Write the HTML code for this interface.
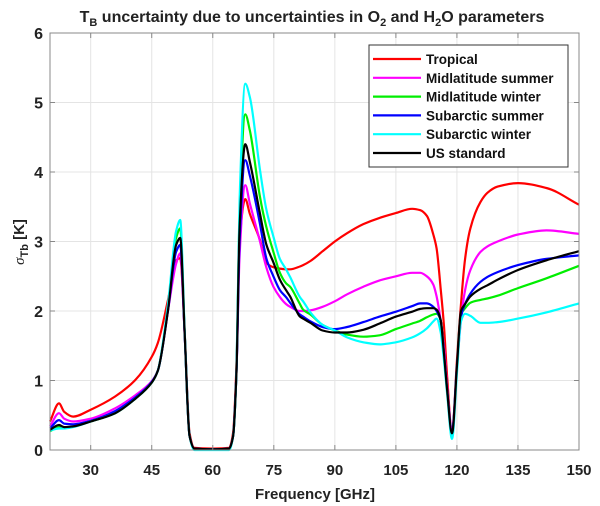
<!DOCTYPE html>
<html><head><meta charset="utf-8"><style>
html,body{margin:0;padding:0;background:#fff;}
svg{display:block;font-family:"Liberation Sans",Arial,sans-serif;}
</style></head><body>
<svg id="chart" width="600" height="506" viewBox="0 0 600 506">
<text x="312" y="22" text-anchor="middle" font-size="16" font-weight="bold" fill="#222">T<tspan font-size="11" dy="4">B</tspan><tspan dy="-4"> uncertainty due to uncertainties in O</tspan><tspan font-size="11" dy="4">2</tspan><tspan dy="-4"> and H</tspan><tspan font-size="11" dy="4">2</tspan><tspan dy="-4">O parameters</tspan></text>
<g id="grid"></g>
<g id="series"></g>
<rect x="50" y="33" width="529" height="417" fill="none" stroke="#888" stroke-width="1"/>
<g id="ticks"></g>
<text x="315" y="499" text-anchor="middle" font-size="15" font-weight="bold" fill="#222">Frequency [GHz]</text>
<text transform="translate(24,242) rotate(-90)" text-anchor="middle" font-size="15" font-weight="bold" fill="#222"><tspan font-family="Liberation Serif, serif" font-style="italic" font-weight="normal">σ</tspan><tspan font-size="11" dy="4">Tb</tspan><tspan dy="-4"> [K]</tspan></text>
<g id="legend">
<rect x="369" y="45" width="199" height="122" fill="#fff" stroke="#333" stroke-width="1"/>
</g>
</svg>
<script>
const freqs=[20,22.2,23.5,25.7,30,36,41,45,46.5,49,51,52,53.1,54.3,55.5,60,64,65,65.8,66.6,68,69.1,71.6,73.2,74.9,76.5,78,79,81.4,82.2,84,87,90,93,97,101,105,109,111,112.6,114.2,115,116,116.8,117.6,118.8,120,121,122,123.3,125.8,127.5,130,135,142,150];
const tropical=[.41,.67,.55,.48,.58,.77,1.01,1.34,1.54,2.16,2.73,2.76,1.68,.24,.03,.02,.03,.25,1.2,3.0,3.61,3.4,3.02,2.69,2.63,2.61,2.6,2.6,2.64,2.66,2.72,2.86,3.0,3.12,3.25,3.34,3.41,3.47,3.45,3.37,3.1,2.9,2.33,1.8,1.04,.26,1.28,2.1,2.75,3.19,3.57,3.7,3.79,3.84,3.77,3.53];
const midSummer=[.34,.53,.45,.41,.45,.6,.79,.99,1.14,2.01,2.68,2.83,1.65,.2,.02,.01,.02,.2,1.1,2.8,3.81,3.55,3.0,2.62,2.35,2.2,2.1,2.06,2.0,2.0,2.01,2.06,2.14,2.24,2.35,2.44,2.5,2.55,2.55,2.5,2.38,2.21,1.87,1.49,.9,.29,1.2,1.87,2.3,2.59,2.85,2.93,3.0,3.1,3.16,3.11];
const midWinter=[.27,.33,.32,.34,.41,.53,.74,.97,1.14,2.05,3.05,3.19,1.68,.2,.02,.01,.02,.2,1.1,3.4,4.83,4.6,3.64,3.2,2.85,2.55,2.4,2.35,2.1,2.02,1.95,1.8,1.72,1.66,1.63,1.65,1.74,1.82,1.86,1.91,1.95,1.96,1.87,1.4,.85,.24,1.2,1.95,2.04,2.12,2.16,2.18,2.22,2.33,2.47,2.65];
const subSummer=[.31,.43,.38,.37,.42,.56,.76,.98,1.14,2.01,2.85,2.95,1.66,.2,.02,.01,.02,.2,1.1,3.0,4.17,3.95,3.25,2.75,2.5,2.3,2.2,2.12,1.95,1.92,1.85,1.77,1.74,1.77,1.84,1.92,1.99,2.07,2.11,2.11,2.06,2.0,1.87,1.4,.85,.25,1.2,1.92,2.1,2.25,2.42,2.49,2.56,2.66,2.75,2.8];
const subWinter=[.28,.31,.31,.33,.41,.53,.74,.97,1.14,2.1,3.15,3.31,1.7,.2,0,0,0,.2,1.1,3.6,5.27,5.08,4.03,3.45,3.07,2.75,2.6,2.49,2.2,2.14,1.98,1.8,1.72,1.62,1.55,1.52,1.55,1.62,1.68,1.75,1.85,1.89,1.7,1.3,.8,.16,1.1,1.85,1.96,1.93,1.83,1.83,1.84,1.89,1.98,2.11];
const usStandard=[.29,.36,.33,.34,.41,.53,.74,.97,1.14,2.01,2.95,3.05,1.67,.2,.02,.01,.02,.2,1.1,3.2,4.40,4.15,3.4,2.95,2.7,2.45,2.3,2.21,1.92,1.89,1.83,1.72,1.69,1.69,1.73,1.82,1.92,1.99,2.03,2.04,2.04,2.02,1.87,1.4,.85,.24,1.2,2.0,2.1,2.21,2.32,2.37,2.45,2.59,2.73,2.86];
const seriesNames=["Tropical","Midlatitude summer","Midlatitude winter","Subarctic summer","Subarctic winter","US standard"];
const xTicks=[30,45,60,75,90,105,120,135,150];
const yTicks=[0,1,2,3,4,5,6];

const NS="http://www.w3.org/2000/svg";
const X0=50,X1=579,Y0=450,Y1=33,XMIN=20,XMAX=150,YMIN=0,YMAX=6;
function xs(v){return X0+(v-XMIN)/(XMAX-XMIN)*(X1-X0);}
function ys(v){return Y0-(v-YMIN)/(YMAX-YMIN)*(Y0-Y1);}
function mk(tag,attrs,parent){const e=document.createElementNS(NS,tag);for(const k in attrs)e.setAttribute(k,attrs[k]);parent.appendChild(e);return e;}
function monotonePath(px,py){
  const n=px.length,d=[],m=[];
  for(let i=0;i<n-1;i++)d.push((py[i+1]-py[i])/(px[i+1]-px[i]));
  m[0]=d[0];m[n-1]=d[n-2];
  for(let i=1;i<n-1;i++){ if(d[i-1]*d[i]<=0)m[i]=0; else { const h0=px[i]-px[i-1],h1=px[i+1]-px[i]; m[i]=3*(h0+h1)/((2*h1+h0)/d[i-1]+(h1+2*h0)/d[i]); } }
  let s='M'+px[0].toFixed(1)+','+py[0].toFixed(1);
  for(let i=0;i<n-1;i++){const h=(px[i+1]-px[i])/3;
    s+=' C'+(px[i]+h).toFixed(1)+','+(py[i]+m[i]*h).toFixed(1)+' '+(px[i+1]-h).toFixed(1)+','+(py[i+1]-m[i+1]*h).toFixed(1)+' '+px[i+1].toFixed(1)+','+py[i+1].toFixed(1);}
  return s;
}
const grid=document.getElementById('grid'),ticks=document.getElementById('ticks');
xTicks.forEach(t=>{
  const g=mk('line',{x1:xs(t),x2:xs(t),y1:Y1,y2:Y0,stroke:'#e4e4e4','stroke-width':1},grid);
  
  
  const tk=mk('line',{x1:xs(t),x2:xs(t),y1:Y0,y2:Y0-5,stroke:'#888'},ticks);
  
  
  const tk2=mk('line',{x1:xs(t),x2:xs(t),y1:Y1,y2:Y1+5,stroke:'#888'},ticks);
  
  
  const lb=mk('text',{x:xs(t),y:475,'text-anchor':'middle','font-size':15,'font-weight':'bold',fill:'#222'},ticks);
  lb.textContent=t;
  
  
});
yTicks.forEach(t=>{
  const g=mk('line',{x1:X0,x2:X1,y1:ys(t),y2:ys(t),stroke:'#e4e4e4','stroke-width':1},grid);
  
  
  const tk=mk('line',{x1:X0,x2:X0+5,y1:ys(t),y2:ys(t),stroke:'#888'},ticks);
  
  
  const tk2=mk('line',{x1:X1,x2:X1-5,y1:ys(t),y2:ys(t),stroke:'#888'},ticks);
  
  
  const lb=mk('text',{x:43,y:ys(t)+6,'text-anchor':'end','font-size':16,'font-weight':'bold',fill:'#222'},ticks);
  lb.textContent=t;
  
  
});
const allSeries=[tropical,midSummer,midWinter,subSummer,subWinter,usStandard];
const colors=['#ff0000','#ff00ff','#00ee00','#0000ff','#00ffff','#000000'];
const sg=document.getElementById('series'),lg=document.getElementById('legend');
allSeries.forEach((vals,i)=>{
  const d=monotonePath(freqs.map(xs),vals.map(ys));
  const p=mk('path',{d:d,fill:'none',stroke:colors[i],'stroke-width':2.2,'stroke-linejoin':'round'},sg);
  
  
  const ly=59+i*18.8;
  const ll=mk('line',{x1:373,x2:421,y1:ly,y2:ly,stroke:colors[i],'stroke-width':2.2},lg);
  
  
  const lt=mk('text',{x:426,y:ly+5,'font-size':13.5,'font-weight':'bold',fill:'#111'},lg);
  lt.textContent=seriesNames[i];
  
  
});
</script>
</body></html>
